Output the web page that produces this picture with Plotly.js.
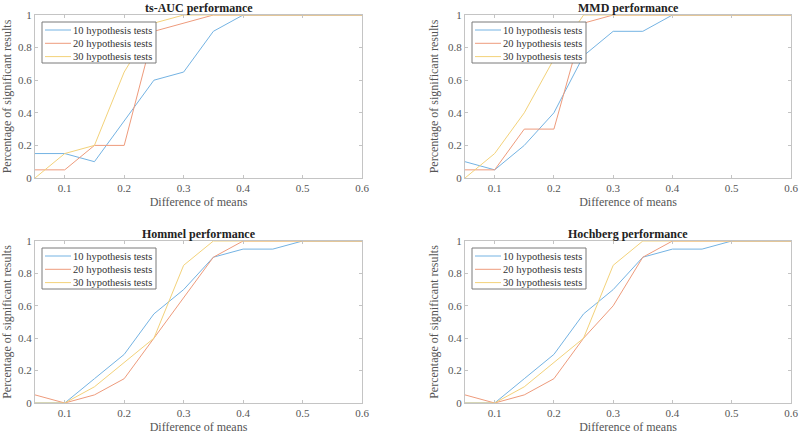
<!DOCTYPE html>
<html>
<head>
<meta charset="utf-8">
<script src="https://cdn.plot.ly/plotly-3.0.1.min.js"></script>
<style>
  body { margin: 0; background: #fff; }
  #chart { width: 800px; height: 436px; }
</style>
</head>
<body>
<div id="chart"></div>
<script>
// difference of means on the x axis
var diffs = [0.05, 0.1, 0.15, 0.2, 0.25, 0.3, 0.35, 0.4, 0.45, 0.5, 0.55, 0.6];
var seriesNames = ["10 hypothesis tests", "20 hypothesis tests", "30 hypothesis tests"];
var panelTitles = ["ts-AUC performance", "MMD performance", "Hommel performance", "Hochberg performance"];

// ts-AUC
var aucTen    = [0.15, 0.15, 0.1, 0.35, 0.6, 0.65, 0.9, 1, 1, 1, 1, 1];
var aucTwenty = [0.05, 0.05, 0.2, 0.2, 0.9, 0.95, 1, 1, 1, 1, 1, 1];
var aucThirty = [0, 0.15, 0.2, 0.65, 0.95, 1, 1, 1, 1, 1, 1, 1];

// MMD
var mmdTen    = [0.1, 0.05, 0.2, 0.4, 0.75, 0.9, 0.9, 1, 1, 1, 1, 1];
var mmdTwenty = [0.05, 0.05, 0.3, 0.3, 0.95, 1, 1, 1, 1, 1, 1, 1];
var mmdThirty = [0, 0.15, 0.4, 0.73, 1, 1, 1, 1, 1, 1, 1, 1];

// Hommel
var homTen    = [0, 0, 0.15, 0.3, 0.55, 0.7, 0.9, 0.95, 0.95, 1, 1, 1];
var homTwenty = [0.05, 0, 0.05, 0.15, 0.4, 0.65, 0.9, 1, 1, 1, 1, 1];
var homThirty = [0, 0, 0.1, 0.25, 0.4, 0.85, 1, 1, 1, 1, 1, 1];

// Hochberg
var hocTen    = [0, 0, 0.15, 0.3, 0.55, 0.7, 0.9, 0.95, 0.95, 1, 1, 1];
var hocTwenty = [0.05, 0, 0.05, 0.15, 0.4, 0.6, 0.9, 1, 1, 1, 1, 1];
var hocThirty = [0, 0, 0.1, 0.25, 0.4, 0.85, 1, 1, 1, 1, 1, 1];

var xTicks = [0.1, 0.2, 0.3, 0.4, 0.5, 0.6];
var yTicks = [0, 0.2, 0.4, 0.6, 0.8, 1];

var colors = ["#74b3e3", "#ee9b7c", "#f3d27a"];
var panels = [
  [aucTen, aucTwenty, aucThirty],
  [mmdTen, mmdTwenty, mmdThirty],
  [homTen, homTwenty, homThirty],
  [hocTen, hocTwenty, hocThirty]
];

var W = 800, H = 436;
// plot boxes in pixels: left, top, right, bottom
var boxes = [
  [35, 15, 362, 178],
  [465, 15, 791, 178],
  [35, 241, 362, 403],
  [465, 241, 791, 403]
];
function px(v) { return v / W; }
function py(v) { return 1 - v / H; }

var font = "'Liberation Serif', 'Times New Roman', serif";
var traces = [];
var layout = {
  width: W, height: H,
  margin: { l: 0, r: 0, t: 0, b: 0 },
  paper_bgcolor: "#fff",
  plot_bgcolor: "#fff",
  showlegend: false,
  font: { family: font, color: "#444", size: 11 },
  annotations: [],
  shapes: []
};

panels.forEach(function (series, p) {
  var n = p + 1;
  var suffix = n === 1 ? "" : String(n);
  var b = boxes[p];
  series.forEach(function (vals, s) {
    traces.push({
      x: diffs, y: vals,
      type: "scatter", mode: "lines",
      name: seriesNames[s],
      line: { color: colors[s], width: 1 },
      xaxis: "x" + suffix, yaxis: "y" + suffix
    });
  });

  var axBase = {
    showline: true, mirror: "ticks", linecolor: "#c4c4c4", linewidth: 1,
    ticks: "inside", ticklen: 3, tickcolor: "#c4c4c4",
    showgrid: false, zeroline: false,
    tickfont: { family: font, size: 11, color: "#555" },
    fixedrange: true
  };
  layout["xaxis" + suffix] = Object.assign({}, axBase, {
    domain: [px(b[0]), px(b[2])], anchor: "y" + suffix,
    range: [0.05, 0.6], tickvals: xTicks, ticktext: xTicks.map(String),
    title: { text: "Difference of means", font: { family: font, size: 12, color: "#555" }, standoff: 4 }
  });
  layout["yaxis" + suffix] = Object.assign({}, axBase, {
    domain: [py(b[3]), py(b[1])], anchor: "x" + suffix,
    range: [0, 1], tickvals: yTicks, ticktext: yTicks.map(String),
    title: { text: "Percentage of significant results", font: { family: font, size: 12, color: "#555" }, standoff: 6 }
  });

  // legend box drawn by hand (matlab style, tight rows)
  var lx = b[0] + 7, ly = b[1] + 7;
  layout.shapes.push({
    type: "rect", xref: "paper", yref: "paper",
    x0: px(lx), x1: px(lx + 114), y0: py(ly), y1: py(ly + 41),
    line: { color: "#7a7a7a", width: 1 }, fillcolor: "#fff", layer: "above"
  });
  seriesNames.forEach(function (name, s) {
    var rowY = ly + 8 + s * 13.3;
    layout.shapes.push({
      type: "line", xref: "paper", yref: "paper",
      x0: px(lx + 3), x1: px(lx + 29), y0: py(rowY), y1: py(rowY),
      line: { color: colors[s], width: 1 }, layer: "above"
    });
    layout.annotations.push({
      text: name, xref: "paper", yref: "paper",
      x: px(lx + 30), xanchor: "left", y: py(rowY), yanchor: "middle",
      showarrow: false, borderpad: 0,
      font: { family: font, size: 10.5, color: "#333" }
    });
  });

  layout.annotations.push({
    text: "<b>" + panelTitles[p] + "</b>",
    xref: "paper", yref: "paper",
    x: px((b[0] + b[2]) / 2), xanchor: "center",
    y: py(b[1] - 7.5), yanchor: "middle",
    showarrow: false, borderpad: 0,
    font: { family: font, size: 12, color: "#222" }
  });
});

Plotly.newPlot("chart", traces, layout, { displayModeBar: false, staticPlot: true });
</script>
</body>
</html>
